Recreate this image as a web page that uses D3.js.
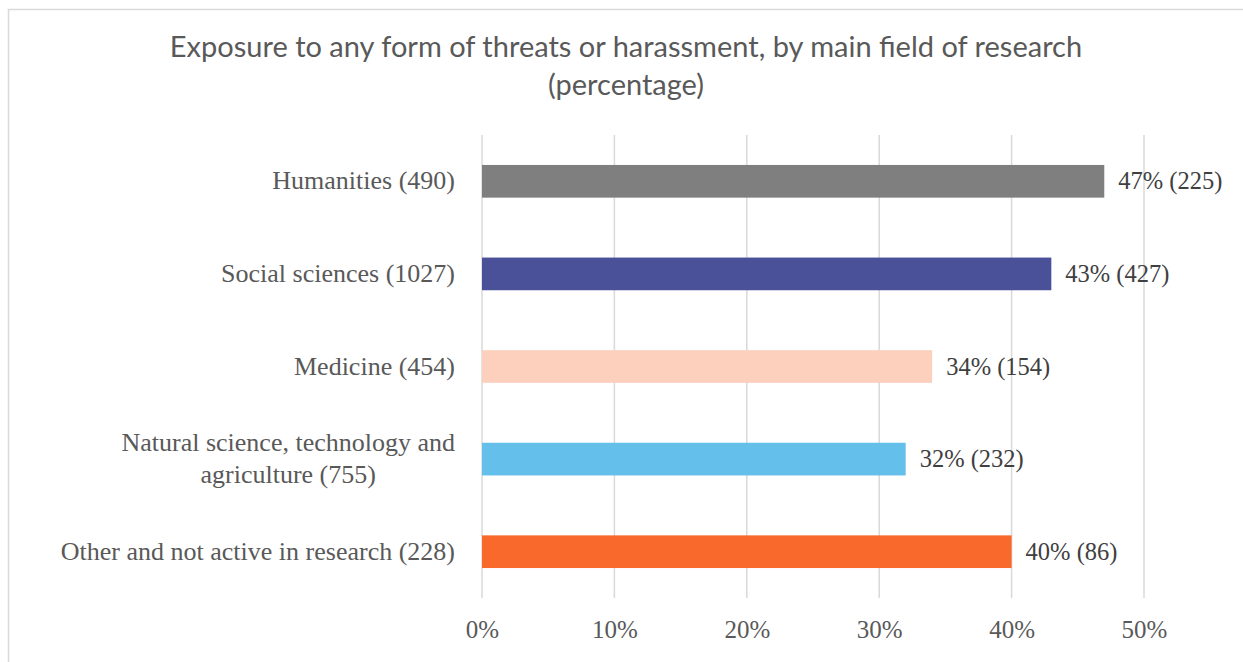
<!DOCTYPE html>
<html>
<head>
<meta charset="utf-8">
<script src="https://cdn.jsdelivr.net/npm/d3@7"></script>
<style>
  body { margin: 0; background: #fff; }
  svg { display: block; }
</style>
</head>
<body>
<div id="chart"></div>
<script>
// data
const categories = [
  "Humanities (490)",
  "Social sciences (1027)",
  "Medicine (454)",
  "Natural science, technology and agriculture (755)",
  "Other and not active in research (228)"
];
const labelLines = [
  ["Humanities (490)"],
  ["Social sciences (1027)"],
  ["Medicine (454)"],
  ["Natural science, technology and", "agriculture (755)"],
  ["Other and not active in research (228)"]
];
const percentages = [47, 43, 34, 32, 40];
const counts = [225, 427, 154, 232, 86];
const barColors = ["#7f7f7f", "#4a5199", "#fdd0bd", "#64bfeb", "#f8692b"];
const tickValues = [0, 10, 20, 30, 40, 50];

const width = 1243, height = 662;
const margin = {top: 135, right: 99, bottom: 64, left: 482};

const svg = d3.select("#chart").append("svg")
    .attr("width", width)
    .attr("height", height);

// chart frame
svg.append("rect")
    .attr("x", 8.5).attr("y", 9.5)
    .attr("width", 1260).attr("height", 700)
    .attr("fill", "none")
    .attr("stroke", "#d9d9d9")
    .attr("stroke-width", 1.5);

const x = d3.scaleLinear()
    .domain([0, 50])
    .range([margin.left, width - margin.right]);

const y = d3.scaleBand()
    .domain(categories)
    .range([margin.top, height - margin.bottom])
    .paddingInner(0.647)
    .paddingOuter(0.3235);

// title
const title = svg.append("text")
    .attr("text-anchor", "middle")
    .attr("font-family", "Lato, 'Open Sans', sans-serif")
    .attr("font-size", 29)
    .attr("fill", "#595959");
title.append("tspan").attr("x", 626).attr("y", 57)
    .text("Exposure to any form of threats or harassment, by main field of research");
title.append("tspan").attr("x", 626).attr("y", 95)
    .text("(percentage)");

// gridlines
svg.append("g")
    .selectAll("line")
    .data(tickValues)
    .join("line")
    .attr("x1", d => x(d)).attr("x2", d => x(d))
    .attr("y1", margin.top).attr("y2", height - margin.bottom)
    .attr("stroke", "#d9d9d9")
    .attr("stroke-width", 1.5);

// x axis labels
const xAxis = svg.append("g")
    .attr("transform", `translate(0,${height - margin.bottom})`)
    .call(d3.axisBottom(x).tickValues(tickValues).tickFormat(d => d + "%").tickSize(0).tickPadding(0));
xAxis.select(".domain").remove();
xAxis.selectAll("text")
    .attr("dy", null)
    .attr("y", 40)
    .attr("font-family", "'Liberation Serif', serif")
    .attr("font-size", 25)
    .attr("fill", "#595959");

// bars
svg.append("g")
    .selectAll("rect")
    .data(categories)
    .join("rect")
    .attr("x", x(0))
    .attr("y", d => y(d))
    .attr("width", (d, i) => x(percentages[i]) - x(0))
    .attr("height", y.bandwidth())
    .attr("fill", (d, i) => barColors[i]);

// value labels
svg.append("g")
    .selectAll("text")
    .data(categories)
    .join("text")
    .attr("x", (d, i) => x(percentages[i]) + 14)
    .attr("y", d => y(d) + y.bandwidth() / 2 + 8)
    .attr("font-family", "'Liberation Serif', serif")
    .attr("font-size", 24.5)
    .attr("fill", "#404040")
    .text((d, i) => percentages[i] + "% (" + counts[i] + ")");

// category labels, wrapped ones centred as a block
const labelRight = 455, lineGap = 32;
const catG = svg.append("g")
    .attr("font-family", "'Liberation Serif', serif")
    .attr("font-size", 26)
    .attr("fill", "#595959");

categories.forEach((c, i) => {
    const lines = labelLines[i];
    const cy = y(c) + y.bandwidth() / 2;
    const t = catG.append("text");
    if (lines.length === 1) {
        t.attr("text-anchor", "end")
            .attr("x", labelRight)
            .attr("y", cy + 8)
            .text(lines[0]);
    } else {
        t.attr("text-anchor", "middle");
        const spans = lines.map((l, j) => t.append("tspan")
            .attr("y", cy + 8 + (j - (lines.length - 1) / 2) * lineGap)
            .text(l));
        const maxW = d3.max(spans, s => s.node().getComputedTextLength());
        spans.forEach(s => s.attr("x", labelRight - maxW / 2));
    }
});
</script>
</body>
</html>
